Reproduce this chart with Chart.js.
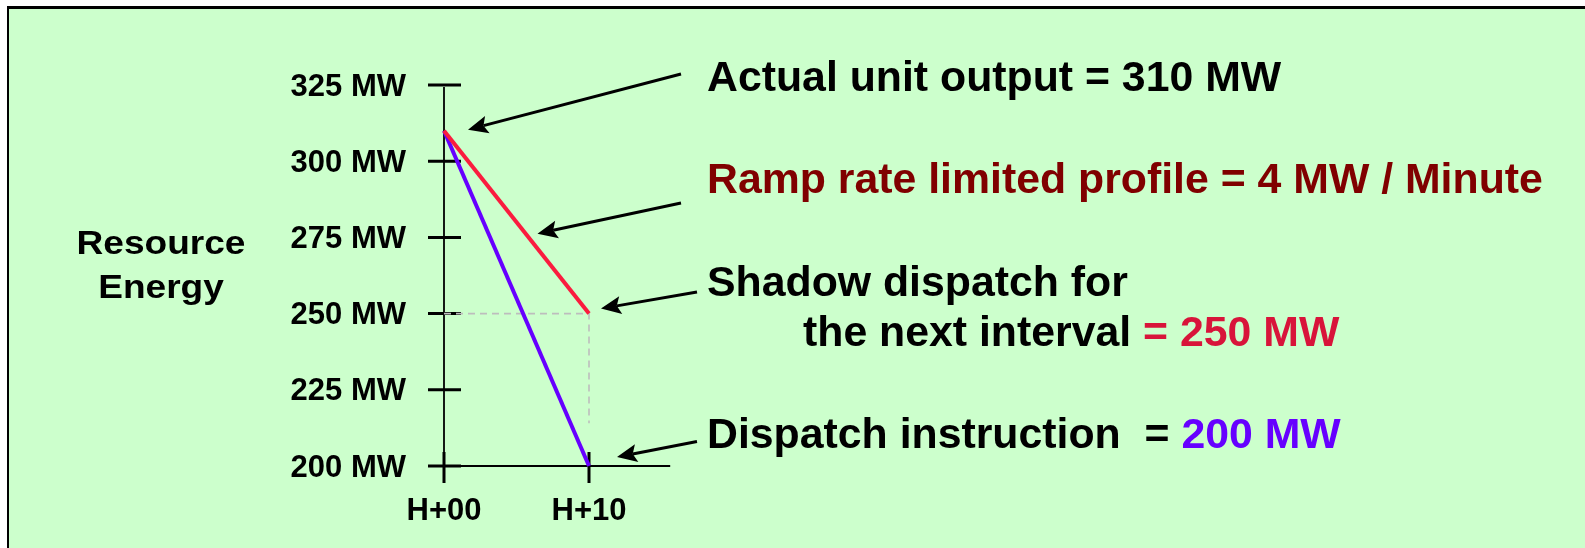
<!DOCTYPE html>
<html>
<head>
<meta charset="utf-8">
<script src="https://cdn.jsdelivr.net/npm/chart.js@4.4.1/dist/chart.umd.min.js"></script>
<style>
  html, body { margin: 0; padding: 0; background: #ffffff; }
  #wrap { width: 1585px; height: 548px; position: relative; }
</style>
</head>
<body>
<div id="wrap"><canvas id="c"></canvas></div>
<script>
// Time axis (minutes after the hour) and its labels
const minutes = [0, 10];
const minuteLabels = ['H+00', 'H+10'];
// Output axis ticks (MW)
const mwTicks = [200, 225, 250, 275, 300, 325];
// Series values at H+00 and H+10
const rampProfile = [310, 250];          // ramp-rate limited, 4 MW/min
const dispatchInstruction = [310, 200];  // instructed target
// Shadow dispatch guide: across at 250 MW, then down from H+10
const guideMinutes = [0, 10, 10];
const guideMW = [250, 250, 214];
// How far the time axis line runs past H+10
const axisEndMinute = 15.6;

const FONT = '"Liberation Sans", Arial, Helvetica, sans-serif';
const RED = '#FA1C3E';
const VIOLET = '#6600FF';
const DARKRED = '#800000';
const CRIMSON = '#D8143A';
const NOTE_SIZE = 42.8;

const toPoints = (xs, ys) => xs.map((x, i) => ({ x, y: ys[i] }));

// Green panel with its frame
const panelPlugin = {
  id: 'panel',
  beforeDraw(chart) {
    const ctx = chart.ctx;
    ctx.save();
    ctx.fillStyle = '#ffffff';
    ctx.fillRect(0, 0, chart.width, chart.height);
    ctx.fillStyle = '#CCFFCC';
    ctx.fillRect(9, 9, chart.width - 9, chart.height - 9);
    ctx.fillStyle = '#000000';
    ctx.fillRect(7, 6, chart.width - 7, 3);
    ctx.fillRect(7, 6, 2, chart.height - 6);
    ctx.restore();
  }
};

// Axis lines with cross-shaped tick marks
const axesPlugin = {
  id: 'crossAxes',
  beforeDatasetsDraw(chart) {
    const ctx = chart.ctx;
    const xs = chart.scales.x, ys = chart.scales.y;
    const x0 = xs.getPixelForValue(minutes[0]);
    const yBase = ys.getPixelForValue(mwTicks[0]);
    const yTop = ys.getPixelForValue(mwTicks[mwTicks.length - 1]);
    ctx.save();
    ctx.strokeStyle = '#000000';
    // vertical axis
    ctx.lineWidth = 1.8;
    ctx.beginPath();
    ctx.moveTo(x0, yTop + 2);
    ctx.lineTo(x0, yBase + 16);
    ctx.stroke();
    // horizontal axis
    ctx.lineWidth = 2.2;
    ctx.beginPath();
    ctx.moveTo(x0 - 16, yBase);
    ctx.lineTo(xs.getPixelForValue(axisEndMinute), yBase);
    ctx.stroke();
    // y tick marks
    ctx.lineWidth = 3;
    mwTicks.forEach(v => {
      const y = ys.getPixelForValue(v);
      ctx.beginPath();
      ctx.moveTo(x0 - 16, y);
      ctx.lineTo(x0 + 17, y);
      ctx.stroke();
    });
    // x tick marks
    minutes.forEach(m => {
      const x = xs.getPixelForValue(m);
      ctx.beginPath();
      ctx.moveTo(x, yBase - 14);
      ctx.lineTo(x, yBase + 17);
      ctx.stroke();
    });
    ctx.restore();
  }
};

function drawArrow(ctx, tx, ty, hx, hy) {
  const a = Math.atan2(hy - ty, hx - tx);
  const L = 20, W = 9, notch = 4;
  const c = Math.cos(a), s = Math.sin(a);
  const bx = hx - L * c, by = hy - L * s;
  ctx.beginPath();
  ctx.moveTo(tx, ty);
  ctx.lineTo(bx + notch * c, by + notch * s);
  ctx.lineWidth = 3;
  ctx.stroke();
  ctx.beginPath();
  ctx.moveTo(hx, hy);
  ctx.lineTo(bx + W * s, by - W * c);
  ctx.lineTo(bx + notch * c, by + notch * s);
  ctx.lineTo(bx - W * s, by + W * c);
  ctx.closePath();
  ctx.fill();
}

function drawRuns(ctx, x, y, runs) {
  runs.forEach(([text, color]) => {
    ctx.fillStyle = color;
    ctx.fillText(text, x, y);
    x += ctx.measureText(text).width;
  });
}

// Axis title, callout texts and pointer arrows
const notesPlugin = {
  id: 'notes',
  afterDraw(chart) {
    const ctx = chart.ctx;
    const xs = chart.scales.x, ys = chart.scales.y;
    const px = (m, v) => [xs.getPixelForValue(m), ys.getPixelForValue(v)];
    ctx.save();

    // y axis title, two centred lines
    ctx.fillStyle = '#000000';
    ctx.font = 'bold 34px ' + FONT;
    ctx.textAlign = 'center';
    ctx.textBaseline = 'alphabetic';
    [['Resource', 254], ['Energy', 298]].forEach(([t, y]) => {
      ctx.save();
      ctx.translate(161, y);
      ctx.scale(1.09, 1);
      ctx.fillText(t, 0, 0);
      ctx.restore();
    });

    // callouts
    ctx.textAlign = 'left';
    ctx.font = 'bold ' + NOTE_SIZE + 'px ' + FONT;
    drawRuns(ctx, 707, 91, [['Actual unit output = ' + rampProfile[0] + ' MW', '#000000']]);
    drawRuns(ctx, 707, 193, [['Ramp rate limited profile = 4 MW / Minute', DARKRED]]);
    drawRuns(ctx, 707, 296, [['Shadow dispatch for', '#000000']]);
    drawRuns(ctx, 803, 346, [['the next interval ', '#000000'], ['= ' + rampProfile[1] + ' MW', CRIMSON]]);
    drawRuns(ctx, 707, 448, [['Dispatch instruction  = ', '#000000'], [dispatchInstruction[1] + ' MW', VIOLET]]);

    // arrows pointing at the chart
    ctx.strokeStyle = '#000000';
    ctx.fillStyle = '#000000';
    const [sx, sy] = px(minutes[0], rampProfile[0]);
    drawArrow(ctx, 681, 74, sx + 24, sy - 1);
    const [ex, ey] = px(minutes[1], rampProfile[1]);
    drawArrow(ctx, 681, 203, (sx + ex) / 2 + 21, (sy + ey) / 2 + 11.5);
    drawArrow(ctx, 697, 292, ex + 12, ey - 5);
    const [dx, dy] = px(minutes[1], dispatchInstruction[1]);
    drawArrow(ctx, 697, 441.5, dx + 28, dy - 9);

    ctx.restore();
  }
};

new Chart(document.getElementById('c'), {
  type: 'line',
  data: {
    datasets: [
      {
        label: 'Ramp rate limited profile',
        data: toPoints(minutes, rampProfile),
        borderColor: RED,
        borderWidth: 4,
        pointRadius: 0,
        tension: 0,
        fill: false,
        clip: false
      },
      {
        label: 'Dispatch instruction',
        data: toPoints(minutes, dispatchInstruction),
        borderColor: VIOLET,
        borderWidth: 4,
        pointRadius: 0,
        tension: 0,
        fill: false,
        clip: false
      },
      {
        label: 'Shadow dispatch',
        data: toPoints(guideMinutes, guideMW),
        borderColor: '#BDBDBD',
        borderWidth: 1.6,
        borderDash: [7, 5],
        pointRadius: 0,
        tension: 0,
        fill: false,
        clip: false
      }
    ]
  },
  options: {
    responsive: true,
    maintainAspectRatio: false,
    animation: false,
    events: [],
    layout: { padding: { left: 0, top: 85, right: 996, bottom: 0 } },
    plugins: {
      legend: { display: false },
      tooltip: { enabled: false },
      title: { display: false }
    },
    scales: {
      x: {
        type: 'linear',
        min: minutes[0],
        max: minutes[minutes.length - 1],
        afterBuildTicks(s) { s.ticks = minutes.map(v => ({ value: v })); },
        afterFit(s) { s.height = 82; },
        grid: { display: false },
        border: { display: false },
        ticks: {
          padding: 19,
          maxRotation: 0,
          autoSkip: false,
          color: '#000000',
          font: { family: FONT, size: 31, weight: 'bold' },
          callback: v => minuteLabels[minutes.indexOf(v)]
        }
      },
      y: {
        type: 'linear',
        min: mwTicks[0],
        max: mwTicks[mwTicks.length - 1],
        afterBuildTicks(s) { s.ticks = mwTicks.map(v => ({ value: v })); },
        afterFit(s) { s.width = 444; },
        grid: { display: false },
        border: { display: false },
        ticks: {
          padding: 30,
          labelOffset: 2,
          autoSkip: false,
          color: '#000000',
          font: { family: FONT, size: 31, weight: 'bold' },
          callback: v => v + ' MW'
        }
      }
    }
  },
  plugins: [panelPlugin, axesPlugin, notesPlugin]
});
</script>
</body>
</html>
